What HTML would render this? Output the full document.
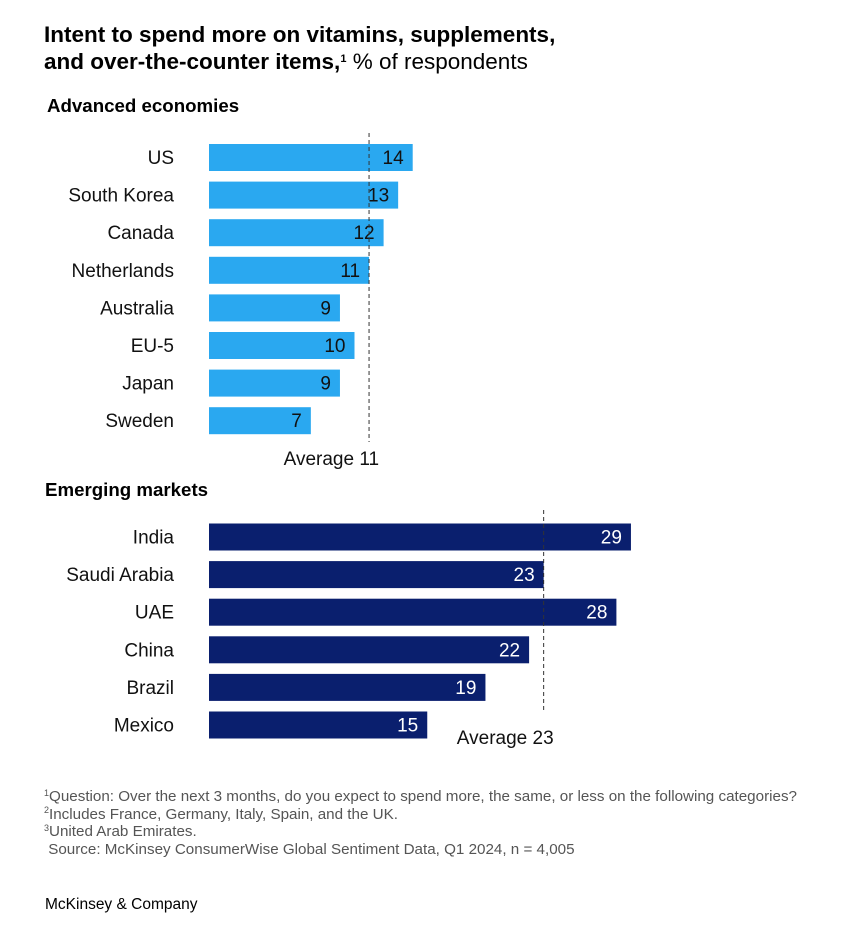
<!DOCTYPE html>
<html><head><meta charset="utf-8"><style>
body{margin:0;background:#fff;font-family:"Liberation Sans",sans-serif;}
#wrap{position:relative;width:856px;height:929px;overflow:hidden}
.t{position:absolute;white-space:nowrap;color:#000}
sup{line-height:0;vertical-align:0;position:relative;top:-0.6em}
</style></head><body>
<div id="wrap">
<div class="t" style="left:44px;top:21px;font-size:22.5px;line-height:27px;font-weight:bold">Intent to spend more on vitamins, supplements,<br>and over-the-counter items,<sup style="font-size:11px">1</sup> <span style="font-weight:normal">% of respondents</span></div>
<div class="t" style="left:47px;top:95px;font-size:18.7px;font-weight:bold">Advanced economies</div>
<div class="t" style="left:45px;top:479px;font-size:18.7px;font-weight:bold">Emerging markets</div>
<svg id="chart" width="856" height="929" style="position:absolute;left:0;top:0"></svg>
<div class="t" style="left:44px;top:788px;font-size:15.2px;line-height:17.7px;color:#555">
<sup style="font-size:9px">1</sup>Question: Over the next 3 months, do you expect to spend more, the same, or less on the following categories?<br>
<sup style="font-size:9px">2</sup>Includes France, Germany, Italy, Spain, and the UK.<br>
<sup style="font-size:9px">3</sup>United Arab Emirates.<br>
&nbsp;Source: McKinsey ConsumerWise Global Sentiment Data, Q1 2024, n = 4,005</div>
<div class="t" style="left:45px;top:896px;font-size:15.5px">McKinsey &amp; Company</div>
</div>
<script>
const advCategories=["US","South Korea","Canada","Netherlands","Australia","EU-5","Japan","Sweden"];
const advValues=[14,13,12,11,9,10,9,7];
const advAverage=11;
const emCategories=["India","Saudi Arabia","UAE","China","Brazil","Mexico"];
const emValues=[29,23,28,22,19,15];
const emAverage=23;
const svg=document.getElementById('chart');
const NS='http://www.w3.org/2000/svg';
const x0=209, k=14.55;
function xs(v){return x0+v*k;}
function mk(t,a){const e=document.createElementNS(NS,t);for(const n in a)e.setAttribute(n,a[n]);svg.appendChild(e);return e;}
function group(cats,vals,avg,top,color,txtColor,lineTop,lineBot,avgY,prefix){
  cats.forEach((c,i)=>{
    const cy=top+i*37.6;
    const r=mk('rect',{x:x0,y:cy-13.5,width:xs(vals[i])-x0,height:27,fill:color});
    
    
    const l=mk('text',{x:174,y:cy+6.5,'text-anchor':'end','font-size':19,fill:'#111'});
    l.textContent=c;
    
    
    const v=mk('text',{x:xs(vals[i])-9,y:cy+6.5,'text-anchor':'end','font-size':19,fill:txtColor});
    v.textContent=vals[i];
    
    
  });
  const ln=mk('line',{x1:xs(avg),x2:xs(avg),y1:lineTop,y2:lineBot,stroke:'#333','stroke-width':1,'stroke-dasharray':'4,3'});
  
  
  const at=mk('text',{x:xs(avg)+10,y:avgY,'text-anchor':'end','font-size':19,fill:'#111'});
  at.textContent='Average '+avg;
  
  
}
group(advCategories,advValues,advAverage,157.5,'#2aa8f0','#111',133,442,465,'advanced');
group(emCategories,emValues,emAverage,537,'#0a1f6e','#fff',510,710,744,'emerging');
</script>
</body></html>
